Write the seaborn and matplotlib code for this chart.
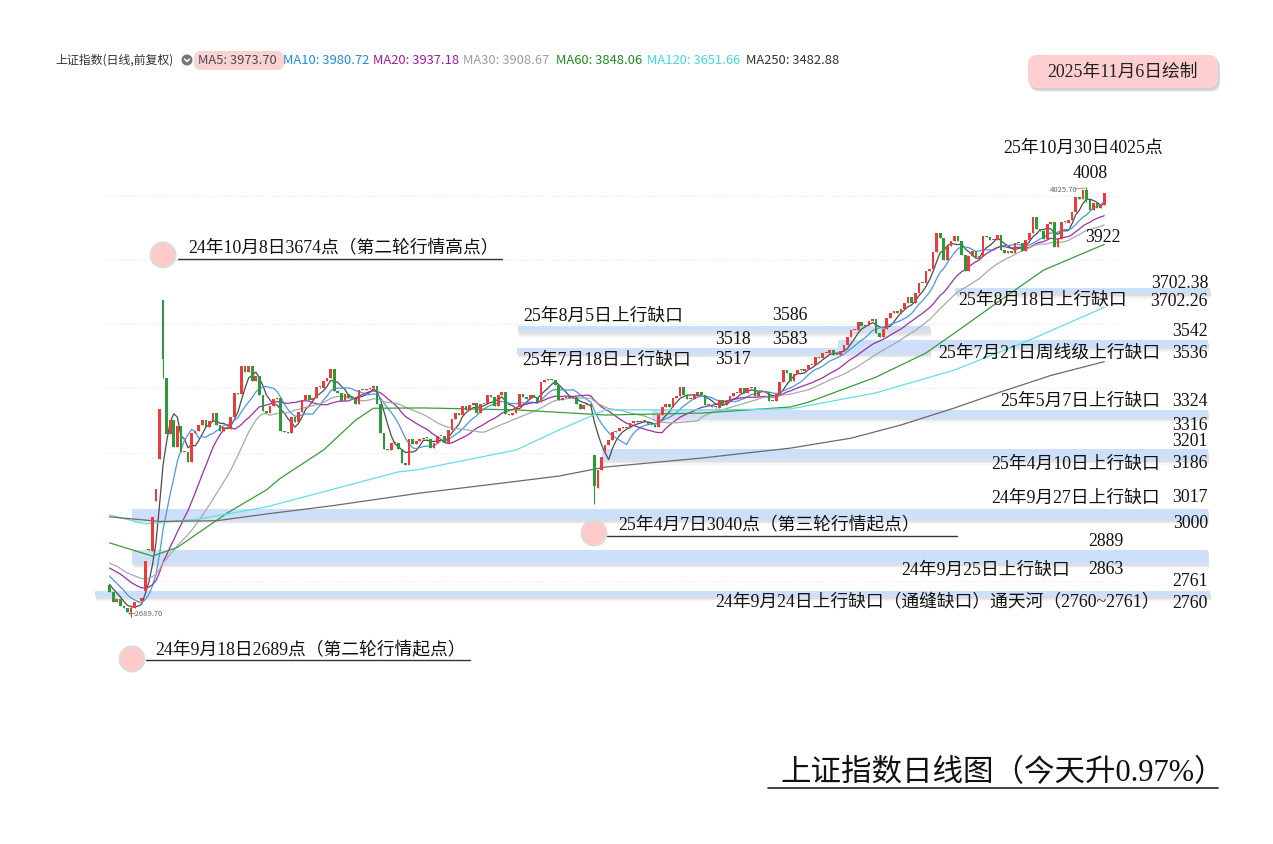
import numpy as np
import pandas as pd
import matplotlib
matplotlib.use("Agg")
import matplotlib.pyplot as plt
import seaborn as sns
from matplotlib.patches import Rectangle, Circle, FancyBboxPatch

# ---------------- DATA ----------------
# 上证指数 daily closes, 2024-09-06 .. 2025-11-06 (one per trading day)
closes = [
    # 2024-09
    2765.81, 2736.49, 2744.19, 2721.80, 2717.12, 2704.09, 2717.28, 2736.02, 2736.81, 2748.92,
    2863.13, 2896.31, 3000.95, 3087.53, 3336.50,
    # 2024-10
    3489.78, 3258.86, 3301.93, 3217.74, 3284.32, 3201.29, 3202.95, 3169.38, 3261.56, 3268.11,
    3285.87, 3302.80, 3280.26, 3299.70, 3322.20, 3286.41, 3266.24, 3279.82,
    # 2024-11
    3272.01, 3310.21, 3386.99, 3383.81, 3470.07, 3452.30, 3470.66, 3421.97, 3439.28, 3379.84,
    3330.73, 3323.85, 3346.01, 3367.99, 3370.40, 3267.19, 3263.76, 3259.76, 3309.78, 3295.70, 3326.46,
    # 2024-12
    3363.98, 3378.81, 3364.65, 3368.86, 3404.08, 3402.53, 3422.66, 3432.49, 3461.50, 3391.88,
    3386.33, 3361.49, 3382.21, 3370.03, 3368.07, 3351.26, 3393.53, 3393.35, 3398.08, 3400.14,
    3407.33, 3351.76,
    # 2025-01
    3262.56, 3211.43, 3206.92, 3229.64, 3230.17, 3211.39, 3168.52, 3160.76, 3240.94, 3227.12,
    3236.03, 3241.82, 3244.38, 3242.62, 3213.62, 3230.16, 3252.63, 3250.60,
    # 2025-02
    3229.49, 3270.66, 3303.67, 3322.17, 3318.06, 3346.39, 3332.48, 3346.72, 3355.83, 3324.49,
    3351.54, 3350.78, 3379.11, 3373.03, 3346.04, 3380.21, 3388.06, 3320.90,
    # 2025-03
    3316.93, 3324.21, 3341.96, 3381.10, 3372.55, 3366.16, 3379.83, 3371.92, 3358.73, 3419.56,
    3426.43, 3429.76, 3426.43, 3408.95, 3364.83, 3370.03, 3369.98, 3368.70, 3373.75, 3351.31, 3335.75,
    # 2025-04
    3348.44, 3350.13, 3342.01, 3096.58, 3145.55, 3186.81, 3223.64, 3238.23, 3262.81, 3267.66,
    3276.00, 3280.34, 3276.73, 3291.43, 3299.76, 3296.36, 3297.29, 3295.06, 3288.41, 3286.65, 3279.03,
    # 2025-05
    3316.11, 3342.67, 3352.00, 3342.00, 3369.24, 3374.87, 3403.95, 3380.82, 3367.46, 3367.58,
    3380.48, 3387.57, 3380.19, 3348.37, 3346.84, 3340.69, 3339.93, 3363.45, 3347.49,
    # 2025-06
    3361.98, 3376.20, 3384.10, 3385.36, 3399.77, 3384.82, 3402.32, 3402.66, 3377.00, 3388.73,
    3387.40, 3388.81, 3362.11, 3359.90, 3381.58, 3420.57, 3455.97, 3448.45, 3424.23, 3444.43,
    # 2025-07
    3457.75, 3454.79, 3461.15, 3472.32, 3473.13, 3497.48, 3493.05, 3509.68, 3510.18, 3519.65,
    3505.00, 3503.78, 3516.83, 3534.48, 3559.79, 3581.86, 3582.30, 3605.73, 3593.66, 3597.94,
    3609.71, 3615.72, 3573.21,
    # 2025-08
    3559.95, 3583.31, 3617.60, 3633.99, 3639.67, 3635.13, 3647.55, 3665.92, 3683.46, 3666.44,
    3696.77, 3728.03, 3727.29, 3766.21, 3771.10, 3825.76, 3883.56, 3868.38, 3800.35, 3843.60, 3857.93,
    # 2025-09
    3875.53, 3858.13, 3813.56, 3765.88, 3812.51, 3826.84, 3807.29, 3812.22, 3875.31, 3870.60,
    3860.50, 3861.87, 3876.34, 3831.66, 3820.09, 3828.58, 3821.83, 3853.64, 3853.30, 3828.11,
    3862.53, 3882.78,
    # 2025-10
    3933.97, 3897.03, 3889.50, 3865.23, 3912.21, 3916.23, 3839.76, 3863.89, 3916.33, 3913.76,
    3922.41, 3950.31, 3996.94, 3988.22, 4016.33, 3986.90, 3954.79,
    # 2025-11
    3976.52, 3960.19, 3969.25, 4007.76,
]

# closes just before the window, only to warm up MA5..MA30
warmup_closes = [
    2886.70, 2890.90, 2891.85, 2879.30, 2938.75, 2932.39, 2905.34, 2860.70, 2867.28, 2869.90,
    2870.22, 2862.19, 2858.20, 2867.95, 2850.65, 2877.36, 2879.43, 2893.67, 2866.66, 2856.58,
    2848.77, 2854.37, 2855.52, 2848.40, 2837.43, 2823.11, 2842.21, 2811.04, 2802.98, 2784.28, 2788.31,
]

holidays = ["2024-09-16", "2024-09-17", "2024-10-01", "2024-10-02", "2024-10-03", "2024-10-04",
            "2024-10-07", "2025-01-01", "2025-01-28", "2025-01-29", "2025-01-30", "2025-01-31",
            "2025-02-03", "2025-02-04", "2025-04-04", "2025-05-01", "2025-05-02", "2025-05-05",
            "2025-06-02", "2025-10-01", "2025-10-02", "2025-10-03", "2025-10-06", "2025-10-07",
            "2025-10-08"]

# opens that differ from the previous close
open_dates = ["2024-09-24", "2024-09-25", "2024-09-26", "2024-09-27", "2024-09-30", "2024-10-08",
              "2024-10-09", "2025-04-07", "2025-04-08", "2025-04-10"]
open_values = [2770.75, 2901.42, 2893.63, 3048.00, 3180.00, 3674.40, 3432.00, 3193.89, 3090.00, 3201.00]

# wicks marked on the chart
wick_dates = ["2024-09-18", "2024-10-08", "2025-04-07", "2025-10-30"]
wick_lows = [2689.70, 3431.00, 3040.69, 3980.00]
wick_highs = [2726.00, 3674.40, 3194.00, 4025.70]

# long averages (trading-day index from 2024-09-06, value)
ma60_idx = [0, 12, 19, 33, 44, 48, 60, 69, 74, 88, 114, 139, 166, 191, 196, 215, 229, 237, 250, 262, 279]
ma60_val = [2919, 2878, 2905, 3012, 3084, 3121, 3208, 3301, 3338, 3339, 3333, 3317, 3323, 3342, 3357,
            3435, 3510, 3572, 3675, 3768, 3848]
ma120_idx = [0, 10, 25, 44, 62, 81, 86, 114, 126, 139, 166, 191, 215, 237, 258, 279]
ma120_val = [3006, 2978, 2993, 3031, 3084, 3140, 3146, 3208, 3270, 3333, 3333, 3336, 3386, 3457, 3550, 3652]
ma250_idx = [0, 14, 30, 44, 62, 87, 110, 126, 139, 166, 191, 208, 222, 237, 250, 264, 279]
ma250_val = [3000, 2986, 2988, 3009, 3034, 3074, 3105, 3127, 3155, 3183, 3214, 3245, 3286, 3339, 3389,
             3440, 3483]

# up-gaps (low edge, high edge)
gap_lo = [2760, 2863, 3000, 3186, 3316, 3517, 3536, 3583, 3702.26]
gap_hi = [2761, 2889, 3017, 3201, 3324, 3518, 3542, 3586, 3702.38]

legend_names = ["MA5", "MA10", "MA20", "MA30", "MA60", "MA120", "MA250"]
legend_values = [3973.70, 3980.72, 3937.18, 3908.67, 3848.06, 3651.66, 3482.88]

# ---------------- LAYOUT ----------------
W, H = 1273, 844
X0, DX = 109.6, 3.565          # pixel of first candle, pixels per trading day
Y0, P0, PPX = 594.0, 2760.0, 3.112  # pixel row of price P0, points per pixel


def px2pos(x):
    return (x - X0) / DX


def py2price(y):
    return P0 + (Y0 - y) * PPX


RED, GREEN = "#ec3b3b", "#2b9a3a"
LINE_COLORS = ["#4d4d4d", "#4a98e6", "#9c2ea6", "#a9a9a9", "#3a9c3a", "#5fdfe6", "#6b6b6b"]
TEXT_COLORS = ["#4a4a4a", "#1e88e5", "#a1199d", "#9e9e9e", "#1b8c1b", "#3fd9dd", "#333333"]

sns.set_theme(style="white")
plt.rcParams["font.family"] = ["Noto Sans CJK SC", "DejaVu Sans"]
SERIF = ["Liberation Serif", "Noto Sans CJK SC"]
FS = 12.8

# ---------------- PREP ----------------
dates = pd.bdate_range("2024-09-06", "2025-11-06", freq="C", holidays=holidays)
assert len(dates) == len(closes)
pos = np.arange(len(closes))
c = np.array(closes)
o = pd.Series(np.r_[warmup_closes[-1], c[:-1]], index=dates)
o.loc[pd.to_datetime(open_dates)] = open_values
o = o.to_numpy()
hi = pd.Series(np.maximum(o, c), index=dates)
lo = pd.Series(np.minimum(o, c), index=dates)
hi.loc[pd.to_datetime(wick_dates)] = wick_highs
lo.loc[pd.to_datetime(wick_dates)] = wick_lows

full = pd.Series(warmup_closes + closes)
short_ma = {n: full.rolling(n).mean().iloc[len(warmup_closes):].to_numpy() for n in [5, 10, 20, 30]}

# ---------------- FIGURE ----------------
fig = plt.figure(figsize=(W / 100, H / 100), dpi=100, facecolor="white")
ax = fig.add_axes([0, 0, 1, 1])
ax.set_xlim(px2pos(0), px2pos(W))
ax.set_ylim(py2price(H), py2price(0))

# faint grid
for p in [2800, 3000, 3200, 3400, 3600, 3800, 4000]:
    ax.plot([px2pos(108), px2pos(1118)], [p, p], ls=(0, (1, 2)), color="#e2e2e2", lw=0.7, zorder=0.5)

# gap bands with a soft shadow
band_x0 = [95, 132, 132, 602, 652, 517, 838, 518, 955]
band_x1 = [1210, 1208, 1208, 1208, 1208, 930, 1208, 930, 1210]
pad = 9
for g0, g1, a, b in zip(gap_lo, gap_hi, band_x0, band_x1):
    x0, x1 = px2pos(a), px2pos(b)
    for k, al in [(14, 0.06), (10, 0.09), (6, 0.10)]:
        ax.add_patch(Rectangle((x0 + 0.4, g0 - pad - k), x1 - x0, g1 - g0 + 2 * pad,
                               fc="#7a7a7a", alpha=al, ec="none", zorder=1))
    ax.add_patch(Rectangle((x0, g0 - pad), x1 - x0, g1 - g0 + 2 * pad,
                           fc="#cddff9", ec="none", zorder=1.2))

# moving averages
for n, col in zip([5, 10, 20, 30], LINE_COLORS[:4]):
    sns.lineplot(x=pos, y=short_ma[n], ax=ax, color=col, lw=0.9, zorder=2)
sns.lineplot(x=ma60_idx, y=ma60_val, ax=ax, color=LINE_COLORS[4], lw=0.9, zorder=2)
sns.lineplot(x=ma120_idx, y=ma120_val, ax=ax, color=LINE_COLORS[5], lw=0.9, zorder=2)
sns.lineplot(x=ma250_idx, y=ma250_val, ax=ax, color=LINE_COLORS[6], lw=0.9, zorder=2)

# candles
up = c >= o
cols = np.where(up, RED, GREEN)
body = c - o
body = np.where(np.abs(body) < 3, 3, body)
ax.vlines(pos, lo.to_numpy(), hi.to_numpy(), colors=cols, lw=0.8, zorder=3)
ax.bar(pos, body, bottom=o, width=0.75, color=cols, lw=0, zorder=4)
ax.axis("off")

# ---------------- ANNOTATIONS (pixel overlay) ----------------
ov = fig.add_axes([0, 0, 1, 1], zorder=5)
ov.set_xlim(0, W)
ov.set_ylim(H, 0)
ov.axis("off")
ov.patch.set_alpha(0)

# header legend
ov.text(55, 60, "上证指数(日线,前复权)", fontsize=8.6, color="#333", va="center")
ov.add_patch(Circle((187, 60), 5.5, fc="#777", ec="none"))
ov.plot([184.5, 187, 189.5], [59, 61.5, 59], color="white", lw=1.1)
ov.add_patch(FancyBboxPatch((194, 51), 90, 19, boxstyle="round,pad=0,rounding_size=7",
                            fc="#fbd3d3", ec="none"))
for name, val, col, x in zip(legend_names, legend_values, TEXT_COLORS,
                             [198, 283, 373, 463, 556, 647, 746]):
    ov.text(x, 60, f"{name}: {val:.2f}", fontsize=9.3, color=col, va="center")

# date box, top right
for k, al in [(4, 0.12), (3, 0.15), (2, 0.18)]:
    ov.add_patch(FancyBboxPatch((1028 + k * 0.6, 55 + k), 190, 33, boxstyle="round,pad=0,rounding_size=9",
                                fc="#8a8a8a", alpha=al, ec="none"))
ov.add_patch(FancyBboxPatch((1028, 55), 190, 33, boxstyle="round,pad=0,rounding_size=9",
                            fc="#fdcfd1", ec="none"))
ov.text(1123, 72, "2025年11月6日绘制", fontsize=FS, family=SERIF, color="#222", ha="center", va="center")

# marker circles
for cx, cy in [(163, 255), (594, 533), (132, 659)]:
    ov.add_patch(Circle((cx, cy), 13.5, fc="#dcdcdc", ec="none"))
    ov.add_patch(Circle((cx, cy), 11.5, fc="#ffcaca", ec="none"))

left_labels = [
    ("24年10月8日3674点（第二轮行情高点）", 188, 249),
    ("25年8月5日上行缺口", 523, 316),
    ("3586", 772, 315),
    ("3518", 715, 339),
    ("3583", 772, 339),
    ("25年7月18日上行缺口", 522, 360),
    ("3517", 715, 360),
    ("25年10月30日4025点", 1003, 148),
    ("4008", 1073, 174),
    ("3922", 1085, 238),
    ("2889", 1088, 541),
    ("2863", 1088, 569),
    ("25年4月7日3040点（第三轮行情起点）", 618, 526),
    ("24年9月18日2689点（第二轮行情起点）", 155, 651),
]
for s, x, y in left_labels:
    ov.text(x, y, s, fontsize=FS, family=SERIF, color="#111", ha="left", va="center")

right_labels = [
    ("3702.38", 1208, 283), ("3702.26", 1208, 301), ("3542", 1208, 332), ("3536", 1208, 353),
    ("3324", 1208, 402), ("3316", 1208, 425), ("3201", 1208, 441), ("3186", 1208, 464),
    ("3017", 1208, 498), ("3000", 1208, 524), ("2761", 1208, 582), ("2760", 1208, 603),
    ("25年8月18日上行缺口", 1127, 300),
    ("25年7月21日周线级上行缺口", 1160, 353),
    ("25年5月7日上行缺口", 1160, 401),
    ("25年4月10日上行缺口", 1160, 464),
    ("24年9月27日上行缺口", 1160, 498),
    ("24年9月25日上行缺口", 1070, 570),
    ("24年9月24日上行缺口（通缝缺口）通天河（2760~2761）", 1160, 603),
]
for s, x, y in right_labels:
    ov.text(x, y, s, fontsize=FS, family=SERIF, color="#111", ha="right", va="center")

# underlines
for x0, x1, y in [(178, 502, 259), (607, 957, 536), (146, 470, 660)]:
    ov.plot([x0, x1], [y, y], color="#333", lw=1.0)

# small price tags at the extremes
ov.text(1050, 190, "4025.70", fontsize=5.5, color="#666", va="center")
ov.plot([1075, 1085], [189, 188], color="#888", lw=0.6)
ov.text(128, 614, "←2689.70", fontsize=5.5, color="#666", va="center")

# bottom title
ov.text(780, 774, "上证指数日线图（今天升0.97%）", fontsize=22, family=SERIF, color="#111",
        ha="left", va="center")
ov.plot([768, 1218], [788, 788], color="#222", lw=1.2)

fig.savefig("out.png", dpi=100, facecolor="white")
